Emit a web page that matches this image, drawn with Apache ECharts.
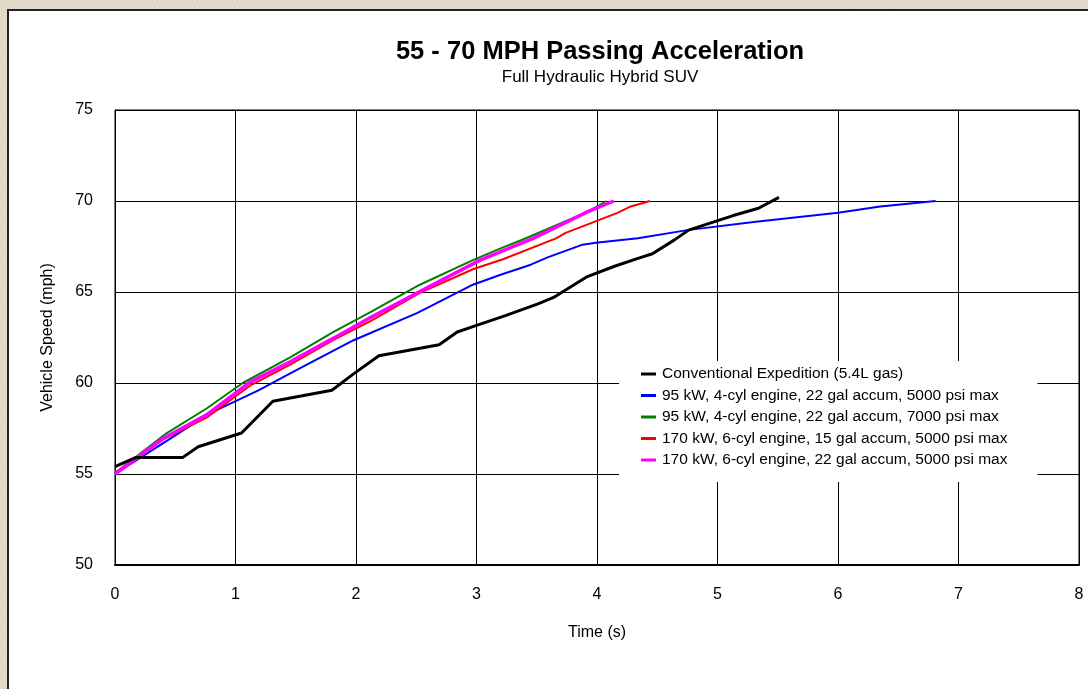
<!DOCTYPE html>
<html>
<head>
<meta charset="utf-8">
<title>55 - 70 MPH Passing Acceleration</title>
<script src="https://cdn.jsdelivr.net/npm/echarts@6/dist/echarts.min.js"></script>
<style>
	html, body {
		margin: 0;
		padding: 0;
		width: 1088px;
		height: 689px;
		overflow: hidden;
		background: #e2d9c8;
		background-image:
			repeating-linear-gradient(37deg, rgba(255,255,255,0.10) 0 1px, rgba(0,0,0,0) 1px 3px),
			repeating-linear-gradient(-53deg, rgba(150,130,100,0.06) 0 1px, rgba(0,0,0,0) 1px 4px);
	}
	#panel {
		position: absolute;
		left: 7px;
		top: 9px;
		width: 1100px;
		height: 700px;
		background: #fff;
		border: 2px solid #222;
	}
	#chart {
		position: absolute;
		left: 0;
		top: 0;
		width: 1088px;
		height: 689px;
	}
</style>
</head>
<body>
<div id="panel"></div>
<div id="chart"></div>
<script>
	// Conventional Expedition (5.4L gas)  [time s, speed mph]
	var convData = [
		[0, 55.4], [0.17, 55.9], [0.56, 55.9], [0.69, 56.5], [1.05, 57.25], [1.31, 59.0],
		[1.80, 59.6], [1.98, 60.5], [2.19, 61.5], [2.69, 62.1], [2.84, 62.8], [2.97, 63.1],
		[3.24, 63.7], [3.51, 64.35], [3.64, 64.7], [3.92, 65.85], [4.14, 66.4], [4.34, 66.85],
		[4.46, 67.1], [4.64, 67.85], [4.76, 68.4], [4.97, 68.85], [5.13, 69.2], [5.34, 69.6],
		[5.51, 70.2]
	];
	// 95 kW, 22 gal, 5000 psi
	var blue5000Data = [
		[0, 55.0], [0.40, 56.7], [0.79, 58.35], [1.19, 59.6], [1.56, 60.9], [1.98, 62.35],
		[2.51, 63.85], [2.97, 65.4], [3.20, 65.95], [3.45, 66.5], [3.59, 66.9], [3.88, 67.6],
		[3.99, 67.7], [4.34, 67.95], [4.75, 68.4], [5.30, 68.85], [6.0, 69.35], [6.35, 69.7],
		[6.81, 70.0]
	];
	// 95 kW, 22 gal, 7000 psi
	var green7000Data = [
		[0, 55.05], [0.43, 57.25], [0.76, 58.6], [1.06, 60.0], [1.45, 61.4], [1.81, 62.8],
		[2.12, 63.9], [2.53, 65.4], [2.97, 66.75], [3.20, 67.4], [3.39, 67.9], [3.92, 69.4],
		[4.08, 70.0]
	];
	// 170 kW, 15 gal, 5000 psi
	var red15Data = [
		[0, 55.0], [0.40, 56.9], [0.76, 58.1], [1.12, 59.85], [1.45, 61.0], [1.81, 62.35],
		[2.12, 63.4], [2.53, 64.95], [2.97, 66.25], [3.22, 66.8], [3.66, 67.95], [3.74, 68.25],
		[4.17, 69.35], [4.28, 69.7], [4.44, 70.0]
	];
	// 170 kW, 22 gal, 5000 psi
	var mag22Data = [
		[0, 55.0], [0.40, 56.95], [0.76, 58.25], [1.12, 60.05], [1.45, 61.15], [1.81, 62.45],
		[2.12, 63.6], [2.51, 64.95], [3.03, 66.75], [3.47, 67.95], [3.92, 69.4], [4.14, 70.0]
	];

	var seriesNames = [
		'Conventional Expedition (5.4L gas)',
		'95 kW, 4-cyl engine, 22 gal accum, 5000 psi max',
		'95 kW, 4-cyl engine, 22 gal accum, 7000 psi max',
		'170 kW, 6-cyl engine, 15 gal accum, 5000 psi max',
		'170 kW, 6-cyl engine, 22 gal accum, 5000 psi max'
	];
	var seriesValues = [convData, blue5000Data, green7000Data, red15Data, mag22Data];
	var colorList = ['#000000', '#0000ff', '#008000', '#ff0000', '#ff00ff'];
	var widthList = [3, 2, 2, 2, 3.5];
	// draw order: magenta above green, black on top of all
	var zList = [6, 2, 3, 4, 5];

	var xTicks = [0, 8, 1];   // min, max, interval
	var yTicks = [50, 75, 5];

	var fontName = 'Liberation Sans, Arial, sans-serif';

	var seriesData = [];
	for (var i = 0; i < seriesNames.length; i++) {
		seriesData.push({
			name: seriesNames[i],
			type: 'line',
			data: seriesValues[i],
			symbol: 'none',
			z: zList[i],
			lineStyle: {
				width: widthList[i],
				color: colorList[i]
			},
			itemStyle: {
				color: colorList[i]
			}
		});
	}

	var chart = echarts.init(document.getElementById('chart'));
	var option = {
		backgroundColor: 'transparent',
		animation: false,
		title: {
			text: '55 - 70 MPH Passing Acceleration',
			subtext: 'Full Hydraulic Hybrid SUV',
			left: 595,
			textAlign: 'center',
			top: 34,
			itemGap: 4,
			textStyle: {
				color: '#000',
				fontFamily: fontName,
				fontWeight: 'bold',
				fontSize: 25.5
			},
			subtextStyle: {
				color: '#000',
				fontFamily: fontName,
				fontSize: 17
			}
		},
		legend: {
			orient: 'vertical',
			left: 619,
			top: 361,
			data: seriesNames,
			icon: 'rect',
			backgroundColor: '#fff',
			padding: [5, 30, 14, 22],
			itemWidth: 15,
			itemHeight: 3,
			itemGap: 5.5,
			textStyle: {
				color: '#000',
				fontFamily: fontName,
				fontSize: 15.5,
				padding: [0, 0, 0, 1]
			}
		},
		grid: {
			left: 115,
			right: 9,
			top: 110,
			bottom: 124,
			show: true,
			borderColor: '#000',
			borderWidth: 1,
			backgroundColor: '#fff'
		},
		xAxis: {
			type: 'value',
			min: xTicks[0],
			max: xTicks[1],
			interval: xTicks[2],
			name: 'Time (s)',
			nameLocation: 'middle',
			nameGap: 60,
			nameTextStyle: {
				color: '#000',
				fontFamily: fontName,
				fontSize: 16
			},
			axisLine: {
				lineStyle: {
					color: '#000',
					width: 2
				}
			},
			axisTick: {
				show: false
			},
			axisLabel: {
				margin: 22,
				color: '#000',
				fontFamily: fontName,
				fontSize: 16
			},
			splitLine: {
				show: true,
				lineStyle: {
					color: '#000',
					width: 1
				}
			}
		},
		yAxis: {
			type: 'value',
			min: yTicks[0],
			max: yTicks[1],
			interval: yTicks[2],
			name: 'Vehicle Speed (mph)',
			nameLocation: 'middle',
			nameGap: 59,
			nameTextStyle: {
				color: '#000',
				fontFamily: fontName,
				fontSize: 16
			},
			axisLine: {
				show: true,
				lineStyle: {
					color: '#000',
					width: 1
				}
			},
			axisTick: {
				show: false
			},
			axisLabel: {
				margin: 22,
				color: '#000',
				fontFamily: fontName,
				fontSize: 16
			},
			splitLine: {
				show: true,
				lineStyle: {
					color: '#000',
					width: 1
				}
			}
		},
		series: seriesData
	};
	chart.setOption(option);
</script>
</body>
</html>
